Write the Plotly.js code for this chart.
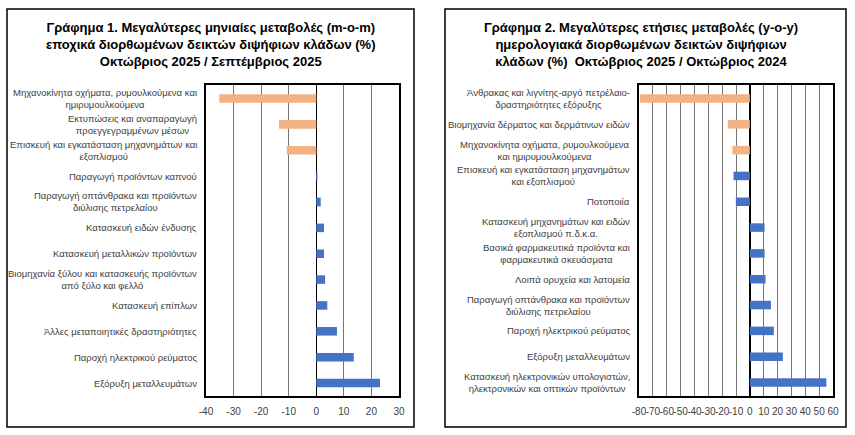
<!DOCTYPE html>
<html>
<head>
<meta charset="utf-8">
<script src="https://cdn.plot.ly/plotly-3.0.1.min.js"></script>
<style>
html,body{margin:0;padding:0;background:#fff;}
#chart{width:855px;height:435px;}
</style>
</head>
<body>
<div id="chart"></div>
<script>
// ---- Data: Chart 1 (m-o-m, Oct 2025 / Sep 2025) ----
const cats1 = [
  "Μηχανοκίνητα οχήματα, ρυμουλκούμενα και<br>ημιρυμουλκούμενα",
  "Εκτυπώσεις και αναπαραγωγή<br>προεγγεγραμμένων μέσων",
  "Επισκευή και εγκατάσταση μηχανημάτων και<br>εξοπλισμού",
  "Παραγωγή προϊόντων καπνού",
  "Παραγωγή οπτάνθρακα και προϊόντων<br>διύλισης πετρελαίου",
  "Κατασκευή ειδών ένδυσης",
  "Κατασκευή μεταλλικών προϊόντων",
  "Βιομηχανία ξύλου και κατασκευής προϊόντων<br>από ξύλο και φελλό",
  "Κατασκευή επίπλων",
  "Άλλες μεταποιητικές δραστηριότητες",
  "Παροχή ηλεκτρικού ρεύματος",
  "Εξόρυξη μεταλλευμάτων"
];
const vals1 = [-35.2, -13.5, -10.7, 0.4, 1.6, 2.8, 2.8, 3.2, 4.0, 7.5, 13.6, 23.1];
const group1 = ["top", "top", "top", "rest", "rest", "rest", "rest", "rest", "rest", "rest", "rest", "rest"];
const ticks1 = [-40, -30, -20, -10, 0, 10, 20, 30];

// ---- Data: Chart 2 (y-o-y, Oct 2025 / Oct 2024) ----
const cats2 = [
  "Άνθρακας και λιγνίτης-αργό πετρέλαιο-<br>δραστηριότητες εξόρυξης",
  "Βιομηχανία δέρματος και δερμάτινων ειδών",
  "Μηχανοκίνητα οχήματα, ρυμουλκούμενα<br>και ημιρυμουλκούμενα",
  "Επισκευή και εγκατάσταση μηχανημάτων<br>και εξοπλισμού",
  "Ποτοποιία",
  "Κατασκευή μηχανημάτων και ειδών<br>εξοπλισμού π.δ.κ.α.",
  "Βασικά φαρμακευτικά προϊόντα και<br>φαρμακευτικά σκευάσματα",
  "Λοιπά ορυχεία και λατομεία",
  "Παραγωγή οπτάνθρακα και προϊόντων<br>διύλισης πετρελαίου",
  "Παροχή ηλεκτρικού ρεύματος",
  "Εξόρυξη μεταλλευμάτων",
  "Κατασκευή ηλεκτρονικών υπολογιστών,<br>ηλεκτρονικών και οπτικών προϊόντων"
];
const vals2 = [-79.3, -15.9, -12.6, -11.8, -10.1, 10.6, 10.6, 11.3, 15.2, 17.3, 23.8, 55.2];
const group2 = ["top", "top", "top", "rest", "rest", "rest", "rest", "rest", "rest", "rest", "rest", "rest"];
const ticks2 = [-80, -70, -60, -50, -40, -30, -20, -10, 0, 10, 20, 30, 40, 50, 60];

const title1 = "Γράφημα 1. Μεγαλύτερες μηνιαίες μεταβολές (m-o-m)<br>εποχικά διορθωμένων δεικτών διψήφιων κλάδων (%)<br>Οκτώβριος 2025 / Σεπτέμβριος 2025";
const title2 = "Γράφημα 2. Μεγαλύτερες ετήσιες μεταβολές (y-o-y)<br>ημερολογιακά διορθωμένων δεικτών διψήφιων<br>κλάδων (%)  Οκτώβριος 2025 / Οκτώβριος 2024";

// ---- Styling ----
const W = 855, H = 435;
const ORANGE = "#F4B183", BLUE = "#4472C4";
const FONT = "Liberation Sans, Arial, sans-serif";
const px = x => x / W;
const py = y => 1 - y / H;
const colorOf = g => g === "top" ? ORANGE : BLUE;

const traces = [
  {type: "bar", orientation: "h", x: vals1, y: cats1, xaxis: "x", yaxis: "y",
   marker: {color: group1.map(colorOf)}, hoverinfo: "x+y"},
  {type: "bar", orientation: "h", x: vals2, y: cats2, xaxis: "x2", yaxis: "y2",
   marker: {color: group2.map(colorOf)}, hoverinfo: "x+y"}
];

function xAxis(domain, ticks, anchor) {
  return {
    domain: domain, anchor: anchor, range: [ticks[0], ticks[ticks.length - 1]],
    tickvals: ticks, ticktext: ticks.map(String), tickmode: "array",
    tickangle: 0,
    showgrid: true, gridcolor: "#767676", gridwidth: 1,
    zeroline: true, zerolinecolor: "#000", zerolinewidth: 1.5,
    showline: true, mirror: true, linecolor: "#000", linewidth: 2,
    ticks: "", ticklabelstandoff: 5,
    tickfont: {family: FONT, size: 10, color: "#404040"}, fixedrange: true
  };
}
function yAxis(anchor) {
  return {
    domain: [py(396), py(85)], anchor: anchor, type: "category",
    autorange: "reversed", showticklabels: false, showgrid: false,
    zeroline: false, showline: true, mirror: true, linecolor: "#000", linewidth: 2,
    ticks: "", fixedrange: true
  };
}

const annotations = [];
cats1.forEach(c => annotations.push({
  xref: "paper", yref: "y", x: px(199), y: c, text: c, showarrow: false,
  xanchor: "right", yanchor: "middle", align: "center",
  font: {family: FONT, size: 9.5, color: "#404040"}
}));
cats2.forEach(c => annotations.push({
  xref: "paper", yref: "y2", x: px(632), y: c, text: c, showarrow: false,
  xanchor: "right", yanchor: "middle", align: "center",
  font: {family: FONT, size: 9.5, color: "#404040"}
}));
annotations.push({xref: "paper", yref: "paper", x: px(211), y: py(44), text: title1,
  showarrow: false, xanchor: "center", yanchor: "middle", align: "center",
  font: {family: FONT, size: 13, color: "#000", weight: "bold"}});
annotations.push({xref: "paper", yref: "paper", x: px(641), y: py(44), text: title2,
  showarrow: false, xanchor: "center", yanchor: "middle", align: "center",
  font: {family: FONT, size: 13, color: "#000", weight: "bold"}});

const layout = {
  width: W, height: H, margin: {l: 0, r: 0, t: 0, b: 0},
  paper_bgcolor: "#fff", plot_bgcolor: "#fff", showlegend: false,
  bargap: 0.67,
  xaxis: xAxis([px(206), px(399)], ticks1, "y"),
  yaxis: yAxis("x"),
  xaxis2: xAxis([px(639), px(833)], ticks2, "y2"),
  yaxis2: yAxis("x2"),
  annotations: annotations,
  shapes: [
    {type: "rect", xref: "paper", yref: "paper", x0: px(7), x1: px(414), y0: py(427), y1: py(9),
     line: {color: "#000", width: 1.5}, fillcolor: "rgba(0,0,0,0)", layer: "below"},
    {type: "rect", xref: "paper", yref: "paper", x0: px(445), x1: px(846), y0: py(427), y1: py(9),
     line: {color: "#000", width: 1.5}, fillcolor: "rgba(0,0,0,0)", layer: "below"}
  ]
};

Plotly.newPlot("chart", traces, layout, {displayModeBar: false, staticPlot: true});
</script>
</body>
</html>
